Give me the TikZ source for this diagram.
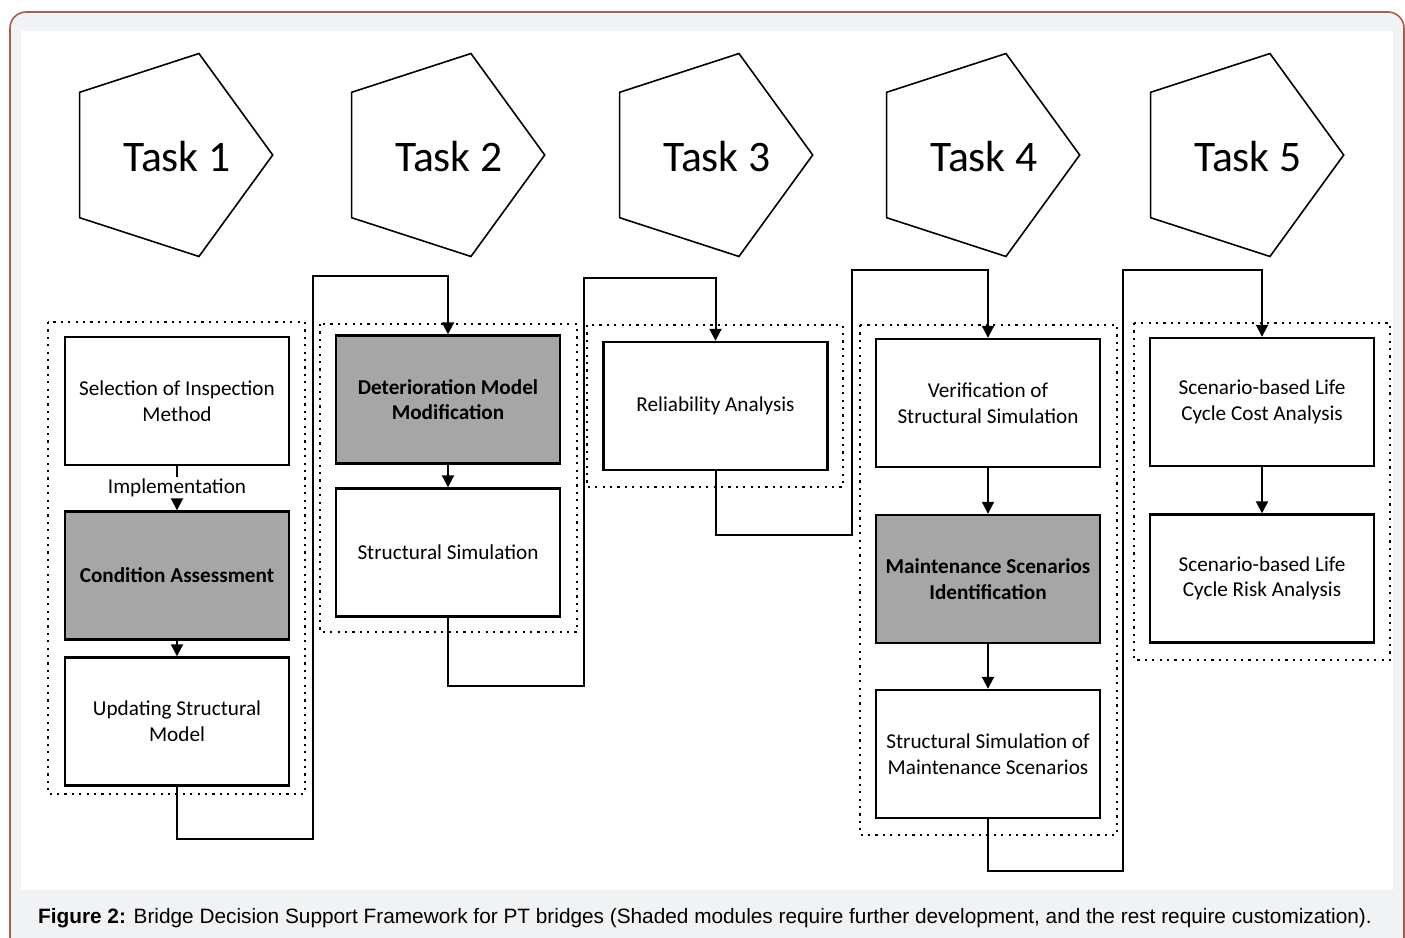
\documentclass[tikz,border=0pt]{standalone}
\usepackage{fontspec}
\setmainfont{Carlito}
\newfontfamily\capfont{Liberation Sans}
\usetikzlibrary{arrows.meta}

\definecolor{rimclr}{RGB}{165,95,75}
\definecolor{pageclr}{RGB}{241,242,244}
\definecolor{shadeclr}{RGB}{166,166,166}

\tikzset{
  module/.style={draw, line width=1.2pt, fill=white, minimum width=112pt,
    minimum height=64pt, inner sep=2pt, align=center,
    font=\fontsize{10.6}{12.8}\selectfont},
  shaded/.style={module, fill=shadeclr, font=\fontsize{10.6}{12.8}\selectfont\bfseries},
  group/.style={line width=1.4pt, dash pattern=on 1.1pt off 2.6pt},
  pent/.style={line width=0.8pt},
  tasklbl/.style={font=\fontsize{21.8}{24}\selectfont},
  link/.style={line width=1pt},
  flow/.style={link, -{Triangle[width=6pt,length=6pt]}}
}

\begin{document}
\begin{tikzpicture}[x=0.5pt,y=-0.5pt]
  % bounding box
  \useasboundingbox (0,0) rectangle (1405,938);
  % page
  \draw[rimclr, line width=0.8pt, fill=pageclr, rounded corners=8pt] (10,12) rectangle (1404,960);
  \fill[white] (21,31) rectangle (1393,890);
  % task pentagons
  \foreach \i/\x in {1/166,2/438,3/706,4/973,5/1237} {
    \draw[pent] (\x,155) +(0:106.7) -- +(72:106.7) -- +(144:106.7)
      -- +(216:106.7) -- +(288:106.7) -- cycle;
    \node[tasklbl] (task\i) at (\x+11,157) {Task \i};
  }
  % groups
  \draw[group] (48,322) rectangle (305,794);
  \draw[group] (320,324) rectangle (577,632);
  \draw[group] (587,325) rectangle (843,487);
  \draw[group] (860,325) rectangle (1117,835);
  \draw[group] (1134,323) rectangle (1390,660);
  % Task 1
  \node[module] (sel) at (177,401) {Selection of Inspection\\Method};
  \node[font=\fontsize{10.6}{12.8}\selectfont, inner sep=1pt] (impl) at (177,488) {Implementation};
  \node[shaded] (cond) at (177,575.5) {Condition Assessment};
  \node[module] (upd) at (177,721.5) {Updating Structural\\Model};
  % Task 2
  \node[shaded] (det) at (448,399.5) {Deterioration Model\\Modification};
  \node[module] (ssim) at (448,552.5) {Structural Simulation};
  % Task 3
  \node[module] (rel) at (715.5,406) {Reliability Analysis};
  % Task 4
  \node[module] (ver) at (988,403) {Verification of\\Structural Simulation};
  \node[shaded] (mnt) at (988,579) {Maintenance Scenarios\\Identification};
  \node[module] (ssm) at (988,754) {Structural Simulation of\\Maintenance Scenarios};
  % Task 5
  \node[module] (lcc) at (1262,402) {Scenario-based Life\\Cycle Cost Analysis};
  \node[module] (lcr) at (1262,578.5) {Scenario-based Life\\Cycle Risk Analysis};
  % arrows inside tasks
  \draw[link] (sel.south) -- (impl.north);
  \draw[flow] (impl.south) -- (cond.north);
  \draw[flow] (cond.south) -- (upd.north);
  \draw[flow] (det.south) -- (ssim.north);
  \draw[flow] (ver.south) -- (mnt.north);
  \draw[flow] (mnt.south) -- (ssm.north);
  \draw[flow] (lcc.south) -- (lcr.north);
  % links between tasks
  \draw[flow] (upd.south) -- ++(0,52) -| (313,276) -| (det.north);
  \draw[flow] (ssim.south) -- ++(0,68) -| (584,278) -| (rel.north);
  \draw[flow] (rel.south) -- ++(0,64) -| (852,270) -| (ver.north);
  \draw[flow] (ssm.south) -- ++(0,52) -| (1123,270) -| (lcc.north);
  % caption
  \node[font=\capfont\fontsize{10.4}{12}\selectfont] (cap) at (705,918)
    {\textbf{Figure 2:} Bridge Decision Support Framework for PT bridges (Shaded modules require further development, and the rest require customization).};
\end{tikzpicture}
\end{document}
